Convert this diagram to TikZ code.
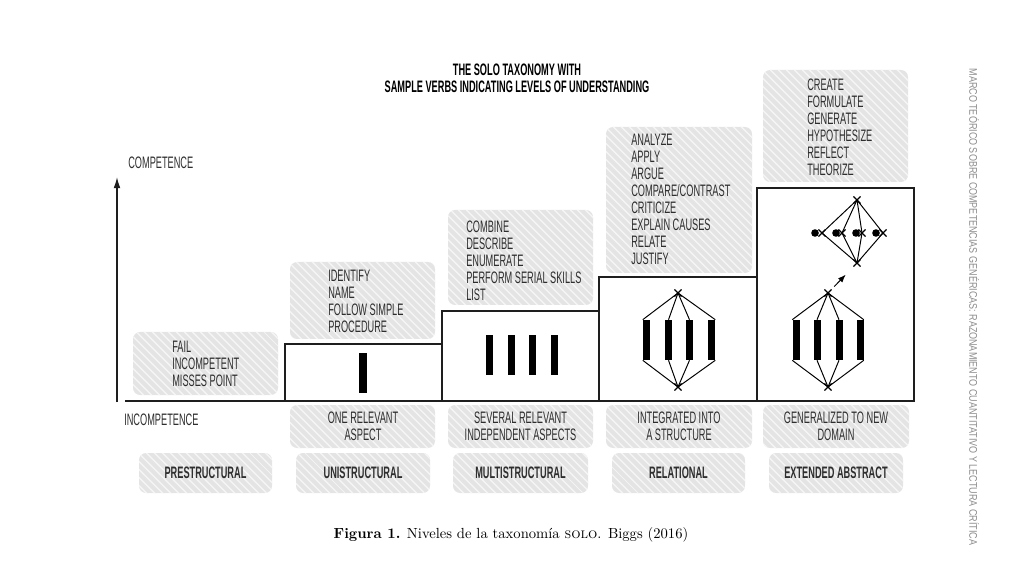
\documentclass[tikz,border=0pt]{standalone}
\usepackage{fontspec}
\newfontfamily\solofont{Liberation Sans}[FakeStretch=0.555]
\newfontfamily\sidefont{Liberation Sans}[FakeStretch=0.81]
\usetikzlibrary{patterns.meta,shapes.misc,arrows.meta}
\definecolor{hatchgray}{HTML}{E4E4E4}
\definecolor{textgray}{HTML}{2E2E2E}
\definecolor{sidegray}{HTML}{8C8C8C}
\definecolor{linegray}{HTML}{1E1E1E}
\begin{document}
\begin{tikzpicture}[x = 0.025cm, y = -0.025cm,
  solobox/.style = {rounded corners = 5pt, preaction = {fill = hatchgray}, pattern = {Lines[angle = -45, distance = 0.14cm, line width = 0.04cm]}, pattern color = white!60!hatchgray},
  verbs/.style = {font = \solofont\fontsize{11.8}{12.05}\selectfont, text = textgray, align = left, anchor = north west, inner sep = 0},
  aspect/.style = {font = \solofont\fontsize{11.8}{12.05}\selectfont, text = textgray, align = center, inner sep = 0},
  level/.style = {font = \solofont\bfseries\fontsize{11.8}{12.05}\selectfont, text = textgray, inner sep = 0},
  stepline/.style = {line width = 0.9pt, draw = linegray},
  link/.style = {line width = 0.7pt},
  bar/.style = {fill = black, minimum width = 0.175cm, minimum height = 1cm, inner sep = 0},
  joint/.style = {cross out, draw, line width = 0.8pt, minimum size = 0.15cm, inner sep = 0},
  dot/.style = {circle, fill = black, minimum size = 0.19cm, inner sep = 0}]
\useasboundingbox (0,0) rectangle (1024,576);
% title
\node[font = \solofont\bfseries\fontsize{11.8}{12.05}\selectfont, align = center, inner sep = 0] (T) at (517,78.5) {THE SOLO TAXONOMY WITH\\SAMPLE VERBS INDICATING LEVELS OF UNDERSTANDING};
% gray boxes
\path[solobox] (133,332) rectangle (278,395);
\path[solobox] (290,262) rectangle (435,339);
\path[solobox] (448,210) rectangle (593,305);
\path[solobox] (606,127) rectangle (752,273);
\path[solobox] (763,70) rectangle (908,182);
\path[solobox] (290,405) rectangle (435,448);
\path[solobox] (448,405) rectangle (593,448);
\path[solobox] (606,405) rectangle (752,448);
\path[solobox] (763,405) rectangle (909,448);
\path[solobox] (139,453) rectangle (272,493);
\path[solobox] (296,453) rectangle (430,493);
\path[solobox] (453,453) rectangle (588,493);
\path[solobox] (612,453) rectangle (745,493);
\path[solobox] (769,453) rectangle (903,493);
% axes and steps
\coordinate (A0) at (117,402);
\coordinate (A1) at (117,177);
\draw[stepline, -{Latex[length = 0.28cm, width = 0.17cm]}] (A0) -- (A1);
\coordinate (B0) at (125,401);
\coordinate (B1) at (914,401);
\draw[stepline] (B0) -- (B1);
\draw[stepline] (285,401) rectangle (442,344);
\draw[stepline] (442,401) rectangle (599,311);
\draw[stepline] (599,401) rectangle (757,277);
\draw[stepline] (757,401) rectangle (914,188);
\node[aspect, anchor = west] (C1) at (128,163) {COMPETENCE};
\node[aspect, anchor = west] (C0) at (124,420) {INCOMPETENCE};
% verbs
\node[verbs] (V1) at (172,341) {FAIL\\INCOMPETENT\\MISSES POINT};
\node[verbs] (V2) at (328,270) {IDENTIFY\\NAME\\FOLLOW SIMPLE\\PROCEDURE};
\node[verbs] (V3) at (466,221) {COMBINE\\DESCRIBE\\ENUMERATE\\PERFORM SERIAL SKILLS\\LIST};
\node[verbs] (V4) at (631,134) {ANALYZE\\APPLY\\ARGUE\\COMPARE/CONTRAST\\CRITICIZE\\EXPLAIN CAUSES\\RELATE\\JUSTIFY};
\node[verbs] (V5) at (807,79) {CREATE\\FORMULATE\\GENERATE\\HYPOTHESIZE\\REFLECT\\THEORIZE};
% aspects
\node[aspect] (P2) at (363,426.5) {ONE RELEVANT\\ASPECT};
\node[aspect] (P3) at (520.5,426.5) {SEVERAL RELEVANT\\INDEPENDENT ASPECTS};
\node[aspect] (P4) at (679,426.5) {INTEGRATED INTO\\A STRUCTURE};
\node[aspect] (P5) at (836,426.5) {GENERALIZED TO NEW\\DOMAIN};
% levels
\node[level] (L1) at (205.5,473) {PRESTRUCTURAL};
\node[level] (L2) at (363,473) {UNISTRUCTURAL};
\node[level] (L3) at (520.5,473) {MULTISTRUCTURAL};
\node[level] (L4) at (678.5,473) {RELATIONAL};
\node[level] (L5) at (836,473) {EXTENDED ABSTRACT};
% unistructural
\node[bar, minimum width = 0.2cm] (U1) at (363,373) {};
% multistructural
\foreach \i/\x in {1/489.5, 2/511, 3/532.5, 4/554.5}
  \node[bar] (M\i) at (\x,355) {};
% relational
\foreach \i/\x in {1/646.5, 2/668.5, 3/689.5, 4/711.5}
  \node[bar] (R\i) at (\x,340) {};
\node[joint] (RT) at (678,293) {};
\node[joint] (RB) at (678,387) {};
\draw[link] (RT.center) -- (R1.north west);
\draw[link] (RT.center) -- (R2.north);
\draw[link] (RT.center) -- (R3.north);
\draw[link] (RT.center) -- (R4.north east);
\draw[link] (RB.center) -- (R1.south west);
\draw[link] (RB.center) -- (R2.south);
\draw[link] (RB.center) -- (R3.south);
\draw[link] (RB.center) -- (R4.south east);
% extended abstract
\foreach \i/\x in {1/796, 2/817, 3/839, 4/860}
  \node[bar] (E\i) at (\x,340) {};
\node[joint] (ET) at (828,293) {};
\node[joint] (EB) at (828,387) {};
\draw[link] (ET.center) -- (E1.north west);
\draw[link] (ET.center) -- (E2.north);
\draw[link] (ET.center) -- (E3.north);
\draw[link] (ET.center) -- (E4.north east);
\draw[link] (EB.center) -- (E1.south west);
\draw[link] (EB.center) -- (E2.south);
\draw[link] (EB.center) -- (E3.south);
\draw[link] (EB.center) -- (E4.south east);
\node[joint] (DT) at (857,200) {};
\node[joint] (DB) at (857,263) {};
\foreach \i/\x/\j in {1/815/822, 2/836/842, 3/856/862, 4/876/883} {
  \node[dot] (D\i) at (\x,233) {};
  \node[joint] (K\i) at (\j,233) {};
  \draw[link] (DT.center) -- (K\i.center) -- (DB.center);
}
\draw[link, -{Latex[length = 0.2cm, width = 0.15cm]}, shorten <= 0.1cm, shorten >= 0.28cm] (ET) -- (DB);
% side text and caption
\node[font = \sidefont\fontsize{7.9}{9}\selectfont, text = sidegray, rotate = -90, inner sep = 0] (S) at (974,307) {MARCO TEÓRICO SOBRE COMPETENCIAS GENÉRICAS: RAZONAMIENTO CUANTITATIVO Y LECTURA CRÍTICA};
\node[font = \fontsize{10.4}{12}\selectfont, inner sep = 0] (F) at (511,535) {\textbf{Figura 1.} Niveles de la taxonomía \textsc{solo}. Biggs (2016)};
\end{tikzpicture}
\end{document}
